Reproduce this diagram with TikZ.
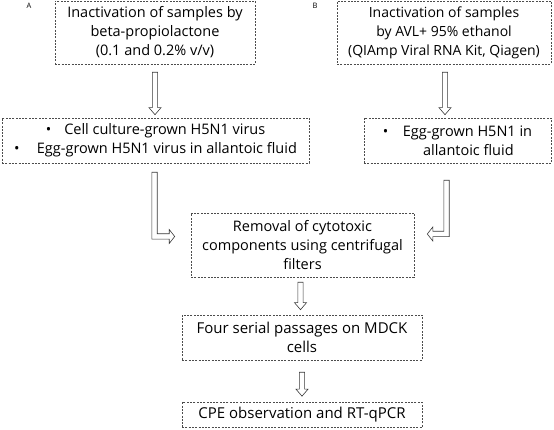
\documentclass[tikz,border=0pt]{standalone}
\usepackage{fontspec}
\setmainfont{Open Sans}
\usetikzlibrary{calc}

% hollow block arrow, straight down
\newcommand{\hollowdown}[2]{%
\draw[harrow] let \p1=#1, \p2=#2 in
 (\x1-2.6pt,\y1) -- (\x1+2.6pt,\y1) -- (\x1+2.6pt,\y2+7pt) -- (\x1+6pt,\y2+7pt)
 -- (\x1,\y2) -- (\x1-6pt,\y2+7pt) -- (\x1-2.6pt,\y2+7pt) -- cycle;}
% hollow block arrow, down then sideways (#3=1 right, -1 left)
\newcommand{\hollowelbow}[3]{%
\draw[harrow] let \p1=#1, \p2=#2 in
 ({\x1-(#3)*2.7pt},\y1) -- ({\x1+(#3)*2.7pt},\y1) -- ({\x1+(#3)*2.7pt},\y2+2.7pt)
 -- ({\x2-(#3)*5.5pt},\y2+2.7pt) -- ({\x2-(#3)*5.5pt},\y2+7pt) -- (\x2,\y2)
 -- ({\x2-(#3)*5.5pt},\y2-7pt) -- ({\x2-(#3)*5.5pt},\y2-2.7pt)
 -- ({\x1-(#3)*2.7pt},\y2-2.7pt) -- cycle;}

\tikzset{
  stepbox/.style={draw=gray!60!black, dash pattern=on 2pt off 1.3pt, line width=0.6pt,
    align=center, inner sep=2pt, font=\fontsize{14.5}{19}\selectfont},
  bigbox/.style={stepbox, font=\fontsize{15}{19}\selectfont},
  harrow/.style={draw=gray!45!black, fill=white, line width=0.6pt},
  panel/.style={font=\fontsize{7.5}{8}\selectfont}
}

\begin{document}
\begin{tikzpicture}[x=1pt,y=1pt]
\useasboundingbox (0,0) rectangle (554,430);

\node[panel] (lblA) at (29,424) {A};
\node[panel] (lblB) at (315,424) {B};

\node[stepbox, minimum width=200pt, minimum height=63pt] (a1) at (155,397.5)
  {Inactivation of samples by\\ beta-propiolactone\\ (0.1 and 0.2\% v/v)};
\node[stepbox, font=\fontsize{14}{19}\selectfont, minimum width=214pt, minimum height=63pt] (b1) at (444,397.5)
  {Inactivation of samples\\ by AVL+ 95\% ethanol\\ (QIAmp Viral RNA Kit, Qiagen)};

\node[stepbox, minimum width=307pt, minimum height=45pt] (a2) at (155.5,289.5)
  {\textbullet\hspace{0.9em}Cell culture-grown H5N1 virus\\
   \textbullet\hspace{1.2em}Egg-grown H5N1 virus in allantoic fluid};
\node[stepbox, minimum width=187pt, minimum height=45pt] (b2) at (457.5,289.5)
  {\textbullet\hspace{1em}Egg-grown H5N1 in\\ \hspace*{1.5em}allantoic fluid};

\node[stepbox, minimum width=223pt, minimum height=64pt] (c) at (302.5,185)
  {Removal of cytotoxic\\ components using centrifugal\\ filters};
\node[bigbox, minimum width=240pt, minimum height=45pt] (d) at (302,92.5)
  {Four serial passages on MDCK\\ cells};
\node[bigbox, minimum width=240pt, minimum height=25pt] (e) at (302,15)
  {CPE observation and RT-qPCR};

\hollowdown{($(a1.south)+(0,-8)$)}{($(a2.north)+(0,3)$)}
\hollowdown{($(b1.south)+(1,-8)$)}{($(b2.north)+(-12,3)$)}
\hollowelbow{($(a2.south)+(-1,-9)$)}{($(c.west)+(-16,8.5)$)}{1}
\hollowelbow{($(b2.south)+(-11,-17)$)}{($(c.east)+(13,11)$)}{-1}
\hollowdown{($(c.south)+(-2,-5)$)}{($(d.north)+(0,5)$)}
\hollowdown{($(d.south)+(0,-12)$)}{($(e.north)+(0,6)$)}
\end{tikzpicture}
\end{document}
